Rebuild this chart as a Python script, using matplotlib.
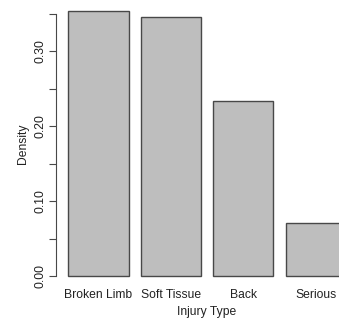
import numpy as np
import matplotlib.pyplot as plt

injury_types = ["Broken Limb", "Soft Tissue", "Back", "Serious"]
density = [0.353, 0.345, 0.233, 0.071]

plt.rcParams['font.family'] = ['Liberation Sans', 'DejaVu Sans']

W, H = 339, 323
fig = plt.figure(figsize=(W / 100, H / 100), dpi=100)

# plot region in pixels (runs past the right edge of the canvas)
left, right, top, bottom = 57.2, 357.0, 0.8, 286.6
ax = fig.add_axes([left / W, 1 - bottom / H, (right - left) / W, (bottom - top) / H])

# barplot layout: width 1, space 0.2
x = 0.2 + np.arange(len(injury_types)) * 1.2 + 0.5
ax.bar(x, density, width=1.0, color='#bebebe', edgecolor='#484848', linewidth=1.0)

ax.set_xlim(0.016, 4.984)
ymax = max(density)
ax.set_ylim(-0.04 * ymax, ymax * 1.04)

for s in ['top', 'right', 'bottom']:
    ax.spines[s].set_visible(False)
ax.spines['left'].set_bounds(0, 0.35)
ax.spines['left'].set_position(('outward', 1))
ax.spines['left'].set_color('#484848')

yt = np.arange(0, 0.351, 0.05)
ax.set_yticks(yt)
ax.set_yticklabels(['%.2f' % v if i % 2 == 0 else '' for i, v in enumerate(yt)],
                   rotation=90, va='center', fontsize=8.7, color='#222222')
ax.tick_params(axis='y', length=5, width=0.8, color='#484848', pad=1.5)

ax.set_xticks(x)
ax.set_xticklabels(injury_types, fontsize=8.7, color='#222222')
ax.tick_params(axis='x', length=0, pad=2)

ax.set_xlabel("Injury Type", fontsize=8.7, labelpad=3, color='#222222')
ax.set_ylabel("Density", fontsize=8.7, labelpad=4, color='#222222')

fig.savefig("out.png", dpi=100)
